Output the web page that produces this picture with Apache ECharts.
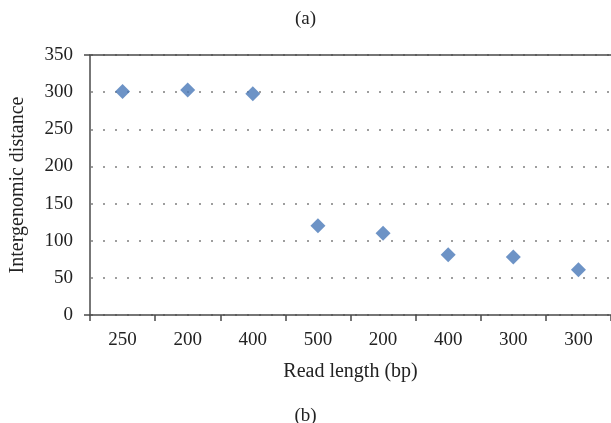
<!DOCTYPE html>
<html>
<head>
<meta charset="utf-8">
<script src="https://cdn.jsdelivr.net/npm/echarts@6/dist/echarts.min.js"></script>
<style>
  html, body { margin: 0; padding: 0; background: #fff; }
  #chart { width: 611px; height: 423px; }
</style>
</head>
<body>
<div id="chart"></div>
<script>
// Read lengths for each sample (category labels, duplicates intended)
const readLengths = ['250', '200', '400', '500', '200', '400', '300', '300'];
// Intergenomic distance measured for each sample
const distances = [301, 303, 298, 120, 110, 81, 78, 61];
// Y axis range and step
const yMin = 0;
const yMax = 350;
const yStep = 50;

const serif = '"Liberation Serif", "DejaVu Serif", serif';
const textColor = '#222222';
const axisColor = '#4a4a4a';

const chart = echarts.init(document.getElementById('chart'), null, { renderer: 'canvas' });

chart.setOption({
  backgroundColor: '#ffffff',
  animation: false,
  title: [
    { text: '(a)', left: 'center', top: 5,
      textStyle: { fontFamily: serif, fontSize: 19, fontWeight: 'normal', color: textColor } },
    { text: '(b)', left: 'center', top: 402,
      textStyle: { fontFamily: serif, fontSize: 19, fontWeight: 'normal', color: textColor } }
  ],
  grid: { left: 90, right: -3, top: 55, bottom: 108, containLabel: false },
  xAxis: [
    {
      type: 'category',
      data: readLengths,
      boundaryGap: true,
      position: 'bottom',
      name: 'Read length (bp)',
      nameLocation: 'middle',
      nameGap: 47,
      nameTextStyle: { fontFamily: serif, fontSize: 20, color: textColor },
      axisLine: { show: true, onZero: false, lineStyle: { color: axisColor, width: 1.5 } },
      axisTick: { show: true, length: 6, alignWithLabel: false, lineStyle: { color: axisColor, width: 1.5 } },
      axisLabel: { fontFamily: serif, fontSize: 19, color: textColor, margin: 16 },
      splitLine: { show: false }
    },
    {
      // plot-area top border
      type: 'category',
      data: readLengths,
      position: 'top',
      axisLine: { show: true, onZero: false, lineStyle: { color: axisColor, width: 1.5 } },
      axisTick: { show: false },
      axisLabel: { show: false },
      splitLine: { show: false }
    }
  ],
  yAxis: [
    {
      type: 'value',
      min: yMin,
      max: yMax,
      interval: yStep,
      name: 'Intergenomic distance',
      nameLocation: 'middle',
      nameGap: 62,
      nameTextStyle: { fontFamily: serif, fontSize: 20, color: textColor },
      axisLine: { show: true, onZero: false, lineStyle: { color: axisColor, width: 1.5 } },
      axisTick: { show: false },
      axisLabel: { fontFamily: serif, fontSize: 19, color: textColor, margin: 17 },
      splitLine: {
        show: true,
        lineStyle: { color: '#7f7f7f', width: 1.5, type: [2, 10], dashOffset: -1 }
      }
    },
    {
      // end ticks at the bottom and top of the value range
      type: 'value',
      position: 'left',
      min: yMin,
      max: yMax,
      interval: yMax - yMin,
      axisLine: { show: false, onZero: false },
      axisTick: { show: true, length: 6, lineStyle: { color: axisColor, width: 1.5 } },
      axisLabel: { show: false },
      splitLine: { show: false }
    }
  ],
  series: [
    {
      type: 'scatter',
      xAxisIndex: 0,
      yAxisIndex: 0,
      data: distances,
      symbol: 'diamond',
      symbolSize: 15,
      itemStyle: { color: '#4878b8' }
    }
  ]
});
</script>
</body>
</html>
